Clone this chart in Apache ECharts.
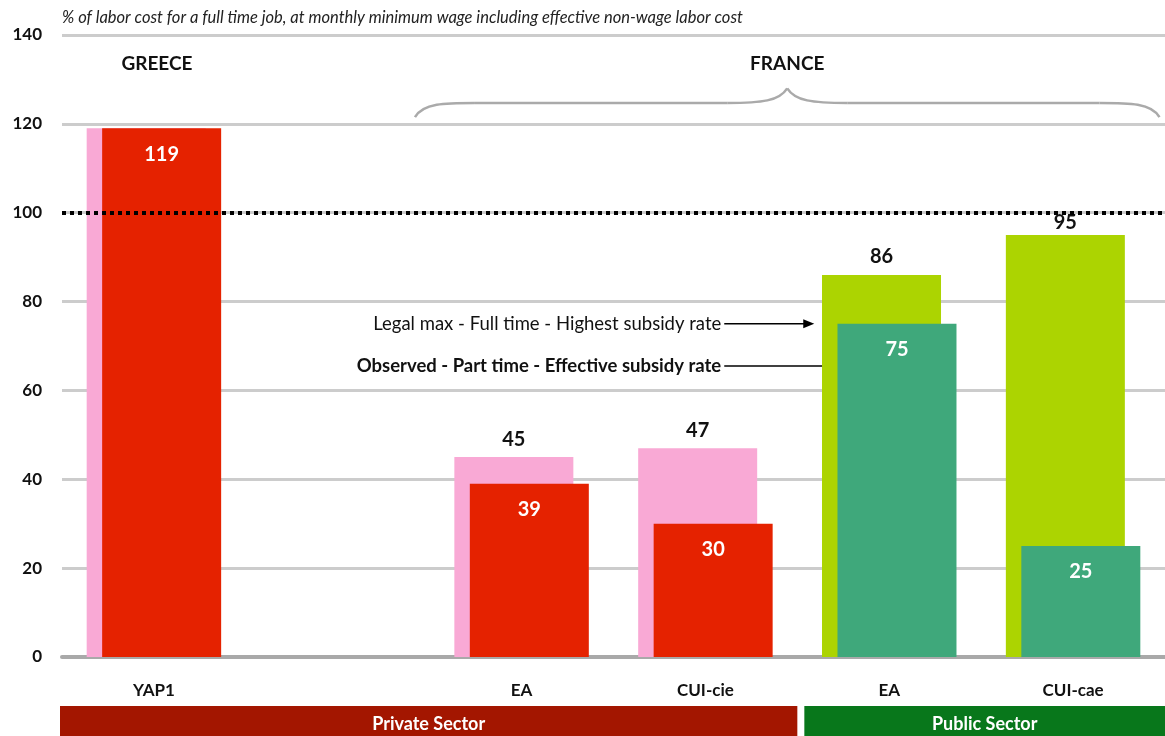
<!DOCTYPE html>
<html>
<head>
<meta charset="utf-8">
<script src="https://cdn.jsdelivr.net/npm/echarts@6/dist/echarts.min.js"></script>
<style>
  html, body { margin: 0; padding: 0; background: #fff; }
  #chart { width: 1165px; height: 736px; }
</style>
</head>
<body>
<div id="chart"></div>
<script>
// Categories along the x axis (blank slot separates Greece from France)
const categories = ['YAP1', '', 'EA', 'CUI-cie', 'EA', 'CUI-cae'];
// Sector of each category
const sectors = ['private', 'private', 'private', 'private', 'public', 'public'];
// Legal max - full time - highest subsidy rate
const legalMax = [119, null, 45, 47, 86, 95];
// Observed - part time - effective subsidy rate
const observed = [119, null, 39, 30, 75, 25];
// Y axis ticks
const yTicks = { min: 0, max: 140, interval: 20 };
// Reference level (100 %)
const refLevel = 100;

const FONT = 'Lato, "Open Sans", sans-serif';
const COLORS = {
  private: { back: '#f9a9d5', front: '#e52200' },
  public:  { back: '#acd401', front: '#3fa87b' }
};

const chart = echarts.init(document.getElementById('chart'), null, { renderer: 'canvas' });

const backData = legalMax.map((v, i) => ({
  value: v == null ? '-' : v,
  itemStyle: { color: COLORS[sectors[i]].back },
  // the Greek pair shares one value, only the inner label is shown;
  // labels close to the 100 line sit tighter to their bar
  label: { show: i !== 0 && v != null, distance: v > refLevel - 10 ? 2 : 8 }
}));
const frontData = observed.map((v, i) => ({
  value: v == null ? '-' : v,
  itemStyle: { color: COLORS[sectors[i]].front }
}));

chart.setOption({
  animation: false,
  textStyle: { fontFamily: FONT },
  grid: { left: 62, right: 0, top: 35, bottom: 79, containLabel: false },
  xAxis: {
    type: 'category',
    data: categories,
    axisLine: { lineStyle: { color: '#a9a9a9', width: 4 } },
    axisTick: { show: false },
    axisLabel: { color: '#111', fontWeight: 'bold', fontSize: 17, margin: 25, fontFamily: FONT }
  },
  yAxis: {
    type: 'value',
    min: yTicks.min, max: yTicks.max, interval: yTicks.interval,
    axisLine: { show: false },
    axisTick: { show: false },
    axisLabel: { color: '#111', fontWeight: 'bold', fontSize: 17, margin: 20, fontFamily: FONT },
    splitLine: { lineStyle: { color: '#cccccc', width: 3 } }
  },
  series: [
    {
      name: 'Legal max - Full time - Highest subsidy rate',
      type: 'bar',
      data: backData,
      barWidth: 119,
      barGap: '-87%',
      label: {
        position: 'top', color: '#111',
        fontWeight: 'bold', fontSize: 20, fontFamily: FONT
      },
      markLine: {
        silent: true,
        symbol: ['none', 'none'],
        label: { show: false },
        lineStyle: { color: '#000', width: 4, type: [4, 4] },
        data: [{ yAxis: refLevel }]
      },
      z: 2
    },
    {
      name: 'Observed - Part time - Effective subsidy rate',
      type: 'bar',
      data: frontData,
      barWidth: 119,
      label: {
        show: true, position: 'insideTop', distance: 16, color: '#fff',
        fontWeight: 'bold', fontSize: 20, fontFamily: FONT
      },
      z: 3
    }
  ]
});

// Annotation layer positioned from the axes' own scales
function px(cat, val) {
  return chart.convertToPixel({ gridIndex: 0 }, [cat, val]);
}
const c0 = px(0, 0), c2 = px(2, 0), c3 = px(3, 0), c4 = px(4, 0), c5 = px(5, 0);
const catW = c3[0] - c2[0];
const gridRight = 1165;

// Brace over the French categories
const bL = c2[0] - 0.58 * catW;
const bR = c5[0] + 0.47 * catW;
const bM = (bL + bR) / 2;
const yEnd = px(0, 121.5)[1], yMid = px(0, 124.7)[1], yTop = px(0, 128)[1];
const braceStyle = { stroke: '#aaaaaa', lineWidth: 2.5, fill: null };
const brace = [
  { type: 'bezierCurve', shape: { x1: bL, y1: yEnd, cpx1: bL + 8, cpy1: yMid, cpx2: bL + 30, cpy2: yMid, x2: bL + 60, y2: yMid }, style: braceStyle },
  { type: 'line', shape: { x1: bL + 60, y1: yMid, x2: bM - 60, y2: yMid }, style: braceStyle },
  { type: 'bezierCurve', shape: { x1: bM - 60, y1: yMid, cpx1: bM - 25, cpy1: yMid, cpx2: bM - 8, cpy2: yMid - 2, x2: bM, y2: yTop }, style: braceStyle },
  { type: 'bezierCurve', shape: { x1: bM, y1: yTop, cpx1: bM + 8, cpy1: yMid - 2, cpx2: bM + 25, cpy2: yMid, x2: bM + 60, y2: yMid }, style: braceStyle },
  { type: 'line', shape: { x1: bM + 60, y1: yMid, x2: bR - 60, y2: yMid }, style: braceStyle },
  { type: 'bezierCurve', shape: { x1: bR - 60, y1: yMid, cpx1: bR - 30, cpy1: yMid, cpx2: bR - 8, cpy2: yMid, x2: bR, y2: yEnd }, style: braceStyle }
];

// Arrows pointing to the public EA bars
const arrow1Y = px(4, 75)[1];
const arrow2Y = px(4, 65.5)[1];
const textRight = c4[0] - 168;
const a1End = c4[0] - 75;
const a2End = c4[0] - 55;

function arrow(y, x1, x2) {
  return [
    { type: 'line', shape: { x1: x1, y1: y, x2: x2 - 8, y2: y }, style: { stroke: '#000', lineWidth: 1.6 } },
    { type: 'polygon', shape: { points: [[x2, y], [x2 - 11, y - 4.5], [x2 - 11, y + 4.5]] }, style: { fill: '#000' } }
  ];
}

// Sector bands below the axis labels
const split = (c3[0] + c4[0]) / 2;
const bandTop = 706, bandH = 30;

chart.setOption({
  graphic: [
    { type: 'text', x: 62, y: 18, style: {
        text: '% of labor cost for a full time job, at monthly minimum wage including effective non-wage labor cost',
        font: 'italic 16.5px ' + FONT, fill: '#222', verticalAlign: 'middle' } },
    { type: 'text', x: c0[0] + 3, y: px(0, 133.4)[1], style: {
        text: 'GREECE', font: 'bold 19px ' + FONT, fill: '#111', align: 'center', verticalAlign: 'middle' } },
    { type: 'text', x: bM, y: px(0, 133.6)[1], style: {
        text: 'FRANCE', font: 'bold 19px ' + FONT, fill: '#111', align: 'center', verticalAlign: 'middle' } },
    ...brace,
    { type: 'text', x: textRight, y: arrow1Y, style: {
        text: 'Legal max - Full time - Highest subsidy rate', font: '18.5px ' + FONT, fill: '#111',
        align: 'right', verticalAlign: 'middle' } },
    { type: 'text', x: textRight, y: arrow2Y, style: {
        text: 'Observed - Part time - Effective subsidy rate', font: 'bold 18.5px ' + FONT, fill: '#111',
        align: 'right', verticalAlign: 'middle' } },
    ...arrow(arrow1Y, textRight + 3, a1End),
    ...arrow(arrow2Y, textRight + 3, a2End),
    { type: 'rect', shape: { x: 60, y: bandTop, width: split - 60, height: bandH }, style: { fill: '#a31600' } },
    { type: 'rect', shape: { x: split + 7, y: bandTop, width: gridRight - split - 7, height: bandH }, style: { fill: '#08771b' } },
    { type: 'text', x: (60 + split) / 2, y: bandTop + bandH / 2 + 3, style: {
        text: 'Private Sector', font: 'bold 18px ' + FONT, fill: '#fff', align: 'center', verticalAlign: 'middle' } },
    { type: 'text', x: (split + 7 + gridRight) / 2, y: bandTop + bandH / 2 + 3, style: {
        text: 'Public Sector', font: 'bold 18px ' + FONT, fill: '#fff', align: 'center', verticalAlign: 'middle' } }
  ]
});
</script>
</body>
</html>
